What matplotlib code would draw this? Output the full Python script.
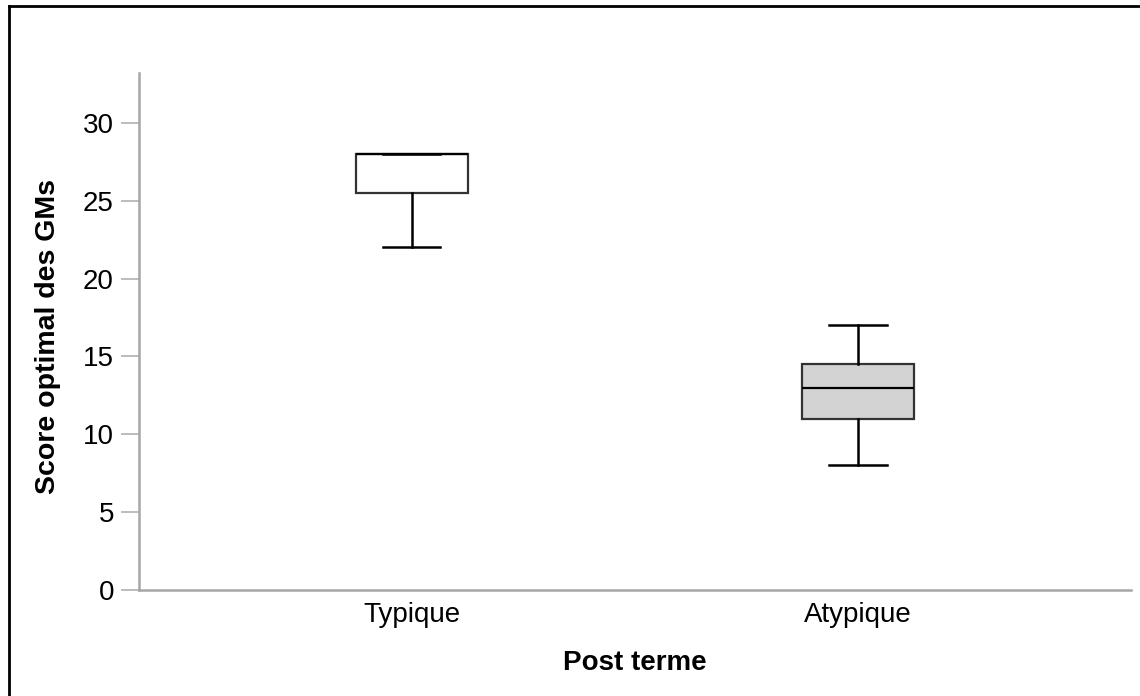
import matplotlib
matplotlib.use("Agg")
from matplotlib import pyplot as plt
from matplotlib.lines import Line2D

plt.rcParams['font.family'] = ['Liberation Sans', 'DejaVu Sans']

# données
groupes = ["Typique", "Atypique"]
minimum = [22, 8]
q1 = [25.5, 11]
mediane = [28, 13]
q3 = [28, 14.5]
maximum = [28, 17]
couleurs = ["white", "#d3d3d3"]
yticks = [0, 5, 10, 15, 20, 25, 30]

stats = []
for i in range(len(groupes)):
    stats.append({"label": groupes[i], "whislo": minimum[i], "q1": q1[i],
                  "med": mediane[i], "q3": q3[i], "whishi": maximum[i]})

fig = plt.figure(figsize=(11.4, 6.96), dpi=100)
ax = fig.add_axes([0.1219, 0.1523, 0.8702, 0.7428])

bp = ax.bxp(stats, positions=range(len(groupes)), widths=0.251,
            showfliers=False, patch_artist=True,
            boxprops=dict(edgecolor="#333333", linewidth=1.6),
            medianprops=dict(color="black", linewidth=1.6),
            whiskerprops=dict(color="black", linewidth=1.8),
            capprops=dict(color="black", linewidth=1.8),
            capwidths=0.128)
for patch, c in zip(bp["boxes"], couleurs):
    patch.set_facecolor(c)

ax.set_xlim(-0.612, 1.612)
ax.set_ylim(0, 33.2)
ax.set_yticks(yticks)
ax.set_xticks(range(len(groupes)))
ax.set_xticklabels(groupes)

for s in ["top", "right"]:
    ax.spines[s].set_visible(False)
for s in ["left", "bottom"]:
    ax.spines[s].set_color("#a6a6a6")
    ax.spines[s].set_linewidth(1.8)

ax.tick_params(axis="y", length=13, width=1.2, color="#b0b0b0",
               labelsize=20, pad=5)
ax.tick_params(axis="x", length=0, labelsize=20, pad=8.5)

fig.text(0.0425, 0.516, "Score optimal des GMs", rotation=90, fontsize=20.5,
         fontweight="bold", ha="center", va="center")
fig.text(0.5566, 0.047, "Post terme", fontsize=20, fontweight="bold",
         ha="center", va="center")

# cadre autour de la figure
fig.add_artist(Line2D([0.0079, 0.0079], [0, 0.9914], color="black",
                      linewidth=2, transform=fig.transFigure))
fig.add_artist(Line2D([0.0079, 1], [0.9914, 0.9914], color="black",
                      linewidth=2, transform=fig.transFigure))

plt.savefig("out.png", dpi=100)
